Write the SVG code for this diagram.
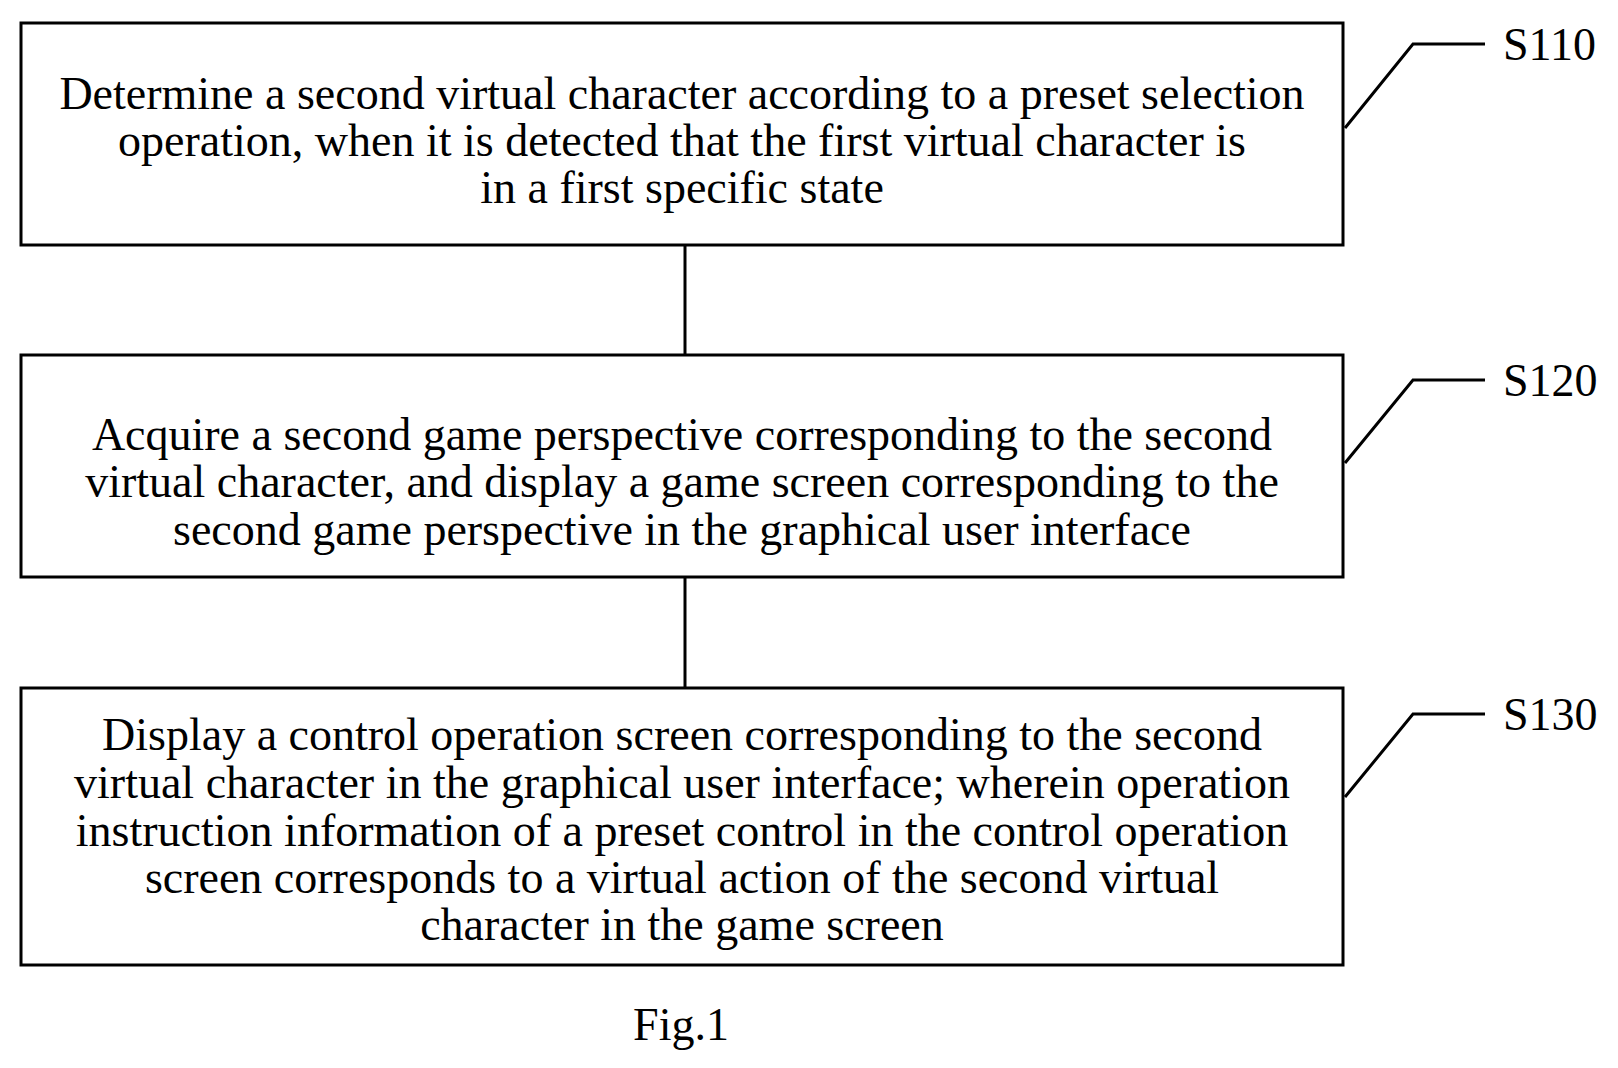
<svg xmlns="http://www.w3.org/2000/svg" width="1618" height="1068" viewBox="0 0 1618 1068">
<style>
.b{fill:#fff;stroke:#000;stroke-width:3}
.l{fill:none;stroke:#000;stroke-width:3}
text{font-family:"Liberation Serif",serif;font-size:46px;fill:#000}
.c{text-anchor:middle}
</style>
<rect width="1618" height="1068" fill="#fff"/>
<g id="connectors">
<line class="l" x1="685" y1="245" x2="685" y2="355"/>
<line class="l" x1="685" y1="577" x2="685" y2="688"/>
<polyline class="l" points="1345,128 1413,44 1485,44"/>
<polyline class="l" points="1345,463 1413,380 1485,380"/>
<polyline class="l" points="1345,797 1413,714 1485,714"/>
</g>
<g id="s110">
<rect class="b" x="21" y="23" width="1322" height="222"/>
<text class="c" x="682" y="109">Determine a second virtual character according to a preset selection</text>
<text class="c" x="682" y="156">operation, when it is detected that the first virtual character is</text>
<text class="c" x="682" y="203">in a first specific state</text>
<text x="1503" y="60">S110</text>
</g>
<g id="s120">
<rect class="b" x="21" y="355" width="1322" height="222"/>
<text class="c" x="682" y="450">Acquire a second game perspective corresponding to the second</text>
<text class="c" x="682" y="497">virtual character, and display a game screen corresponding to the</text>
<text class="c" x="682" y="545">second game perspective in the graphical user interface</text>
<text x="1503" y="396">S120</text>
</g>
<g id="s130">
<rect class="b" x="21" y="688" width="1322" height="277"/>
<text class="c" x="682" y="750">Display a control operation screen corresponding to the second</text>
<text class="c" x="682" y="798">virtual character in the graphical user interface; wherein operation</text>
<text class="c" x="682" y="846">instruction information of a preset control in the control operation</text>
<text class="c" x="682" y="893">screen corresponds to a virtual action of the second virtual</text>
<text class="c" x="682" y="940">character in the game screen</text>
<text x="1503" y="730">S130</text>
</g>
<text class="c" x="681" y="1040">Fig.1</text>
</svg>
